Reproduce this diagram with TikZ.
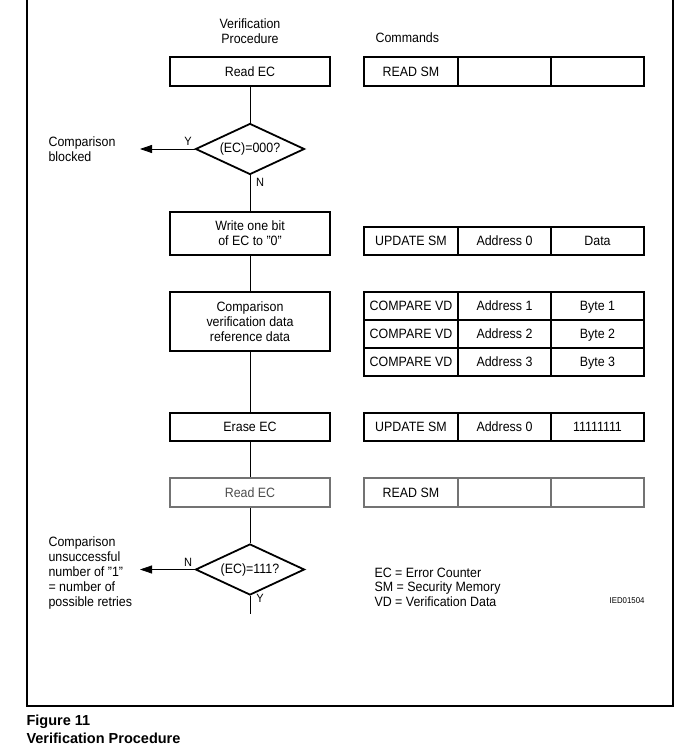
\documentclass[tikz,border=0pt]{standalone}
\usepackage{fontspec}
\setmainfont{Liberation Sans}[FakeStretch=0.92]
\newfontfamily\capfont{Liberation Sans}
\usetikzlibrary{positioning, shapes.geometric, arrows.meta}

\begin{document}
\begin{tikzpicture}[
  x=1pt, y=-1pt,
  every node/.style={font=\fontsize{13.5}{15}\selectfont},
  proc/.style={rectangle, draw=#1, line width=1.8pt, minimum width=160pt,
               inner sep=0pt, align=center},
  proc/.default=black,
  cell/.style={rectangle, draw=#1, line width=1.8pt, minimum width=93.3pt,
               minimum height=28.5pt, inner sep=0pt, text height=9.5pt, text depth=0pt},
  cell/.default=black,
  test/.style={diamond, draw, line width=1.8pt, aspect=2.14,
               minimum width=109pt, minimum height=51pt, inner sep=0pt},
  flow/.style={line width=0.8pt},
  yn/.style={font=\fontsize{12}{13}\selectfont, inner sep=1pt},
  note/.style={anchor=west, align=left},
]
\useasboundingbox (0,0) rectangle (693,754);

% frame
\draw[line width=1.3pt] (27,0) -- (27,706) -- (673,706) -- (673,0);

% column heads
\node[align=center] (head) at (250,31) {Verification\\Procedure};
\node[anchor=west] (cmds) at (372,38) {Commands};

% procedure
\node[proc, minimum height=29pt] (rd1) at (250,71.5) {Read EC};
\node[test] (dia1) at (250,149) {(EC)=000?};
\node[proc, minimum height=43pt] (wr) at (250,233.5) {Write one bit\\of EC to "0"};
\node[proc, minimum height=59pt] (cmp) at (250,321.5) {Comparison\\verification data\\reference data};
\node[proc, minimum height=28pt] (er) at (250,427) {Erase EC};
\node[proc=black!55, text=black!70, minimum height=29pt] (rd2) at (250,492.5) {Read EC};
\node[test] (dia2) at (250,569.5) {(EC)=111?};
\coordinate (end) at (250,614);

\draw[flow] (rd1) -- (dia1);
\draw[flow] (dia1) -- (wr);
\draw[flow] (wr) -- (cmp);
\draw[flow] (cmp) -- (er);
\draw[flow] (er) -- (rd2);
\draw[flow] (rd2) -- (dia2);
\draw[flow] (dia2) -- (end);

% exits
\coordinate (blk) at (140,149);
\coordinate (rty) at (140,569.5);
\draw[flow, -{Triangle[length=12pt, width=8pt]}] (dia1.west) -- (blk);
\draw[flow, -{Triangle[length=12pt, width=8pt]}] (dia2.west) -- (rty);
\node[yn] (y1) at (188,141) {Y};
\node[yn] (n1) at (260,182) {N};
\node[yn] (n2) at (188,562) {N};
\node[yn] (y2) at (260,598) {Y};
\node[note] (blktxt) at (45,149) {Comparison\\blocked};
\node[note] (rtytxt) at (45,573) {Comparison\\unsuccessful\\number of "1"\\= number of\\possible retries};

% commands
\foreach \row/\y/\col/\cmd/\adr/\dat in {
    rs1/71.5/black/READ SM/{}/{},
    us1/241/black/UPDATE SM/Address 0/Data,
    cv1/306/black/COMPARE VD/Address 1/Byte 1,
    cv2/334/black/COMPARE VD/Address 2/Byte 2,
    cv3/362/black/COMPARE VD/Address 3/Byte 3,
    us2/427/black/UPDATE SM/Address 0/11111111,
    rs2/492.5/black!55/READ SM/{}/{}} {
  \node[cell=\col] (\row-a) at (411,\y) {\cmd};
  \node[cell=\col] (\row-b) at (504.5,\y) {\adr};
  \node[cell=\col] (\row-c) at (597.5,\y) {\dat};
}

% legend
\node[note, font=\fontsize{13.5}{14.5}\selectfont] (legend) at (371,587)
  {EC = Error Counter\\SM = Security Memory\\VD = Verification Data};
\node[anchor=east, font=\fontsize{8.5}{10}\selectfont] (ied) at (648,601) {IED01504};

% caption
\node[note, font=\capfont\bfseries\fontsize{14.5}{18}\selectfont] (cap) at (23,729)
  {Figure 11\\Verification Procedure};
\end{tikzpicture}
\end{document}
